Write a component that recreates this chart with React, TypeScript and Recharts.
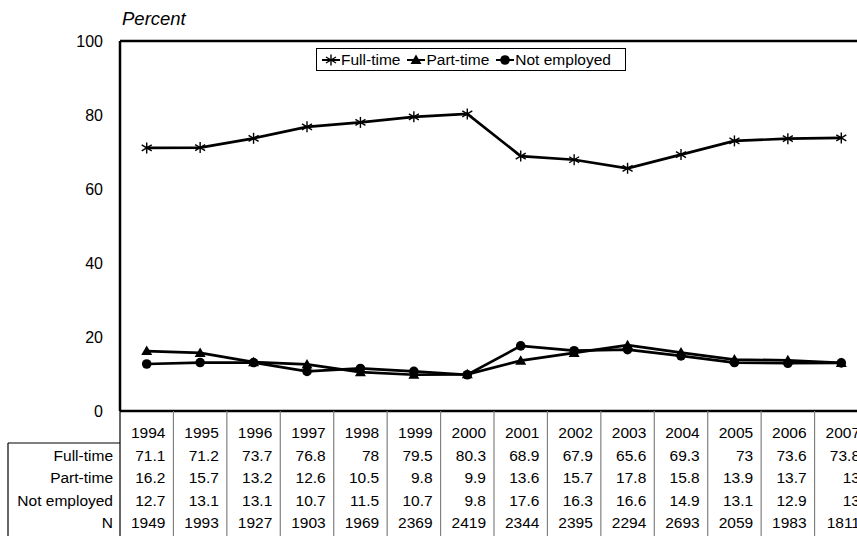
import React from 'react';
import { LineChart, Line, XAxis, YAxis, ReferenceLine, Legend } from 'recharts';

// values as printed in the data table under the chart
const years = ['1994', '1995', '1996', '1997', '1998', '1999', '2000', '2001', '2002', '2003', '2004', '2005', '2006', '2007'];
const fullTime = [71.1, 71.2, 73.7, 76.8, 78, 79.5, 80.3, 68.9, 67.9, 65.6, 69.3, 73, 73.6, 73.8];
const partTime = [16.2, 15.7, 13.2, 12.6, 10.5, 9.8, 9.9, 13.6, 15.7, 17.8, 15.8, 13.9, 13.7, 13];
const notEmployed = [12.7, 13.1, 13.1, 10.7, 11.5, 10.7, 9.8, 17.6, 16.3, 16.6, 14.9, 13.1, 12.9, 13];
const sampleN = [1949, 1993, 1927, 1903, 1969, 2369, 2419, 2344, 2395, 2294, 2693, 2059, 1983, 1811];
const rowLabels = ['Full-time', 'Part-time', 'Not employed', 'N'];
const seriesOrder = ['fullTime', 'partTime', 'notEmployed'];
const yTicks = [0, 20, 40, 60, 80, 100];

const data = years.map((year, i) => ({
  year,
  fullTime: fullTime[i],
  partTime: partTime[i],
  notEmployed: notEmployed[i],
}));
const tableRows = [fullTime, partTime, notEmployed, sampleN];

const FONT = '"Liberation Sans", Arial, Helvetica, sans-serif';
const CELL = 53.43; // width of one year column
const TABLE_SIZE = 15.5;

// markers
function starShape(cx: number, cy: number, key?: any) {
  return (
    <g key={key} stroke="#000" strokeWidth={1.4}>
      <line x1={cx} y1={cy - 5.5} x2={cx} y2={cy + 5.5} />
      <line x1={cx - 5} y1={cy - 3} x2={cx + 5} y2={cy + 3} />
      <line x1={cx - 5} y1={cy + 3} x2={cx + 5} y2={cy - 3} />
    </g>
  );
}
function triangleShape(cx: number, cy: number, key?: any) {
  return <path key={key} d={`M${cx},${cy - 5.5} L${cx + 5.5},${cy + 4} L${cx - 5.5},${cy + 4} Z`} fill="#000" />;
}
function circleShape(cx: number, cy: number, key?: any) {
  return <circle key={key} cx={cx} cy={cy} r={4.8} fill="#000" />;
}

const markers: Record<string, (cx: number, cy: number, key?: any) => React.ReactElement> = {
  fullTime: starShape,
  partTime: triangleShape,
  notEmployed: circleShape,
};

// each x tick draws its whole table column
function TableTick(props: any) {
  const { x, y, payload } = props;
  const index = payload.index ?? props.index;
  const right = x + CELL / 2;
  return (
    <g fontFamily={FONT} fontSize={TABLE_SIZE} fill="#000">
      <line x1={right} x2={right} y1={y} y2={y + 130} stroke="#808080" strokeWidth={1.2} />
      <text x={right - 8} y={y + 27} textAnchor="end" fill="#000">{payload.value}</text>
      {tableRows.map((row, r) => (
        <text key={r} x={right - 8} y={y + 50 + r * 22.4} textAnchor="end" fill="#000">
          {String(row[index])}
        </text>
      ))}
      {index === 0 && (
        <g>
          <line x1={x - CELL / 2} x2={x - CELL / 2} y1={y} y2={y + 130} stroke="#000" strokeWidth={1.2} />
          <line x1={8} x2={x - CELL / 2} y1={y + 32} y2={y + 32} stroke="#000" strokeWidth={1.2} />
          <line x1={8} x2={8} y1={y + 32} y2={y + 130} stroke="#000" strokeWidth={1.2} />
          {rowLabels.map((label, r) => (
            <text key={label} x={113} y={y + 50 + r * 22.4} textAnchor="end" fill="#000">{label}</text>
          ))}
        </g>
      )}
    </g>
  );
}

function LegendBox(props: any) {
  const { payload = [] } = props;
  const items = [...payload].sort(
    (a: any, b: any) => seriesOrder.indexOf(a.dataKey) - seriesOrder.indexOf(b.dataKey)
  );
  return (
    <div
      style={{
        display: 'inline-flex',
        alignItems: 'center',
        border: '1px solid #000',
        background: '#fff',
        height: 21,
        padding: '0 8px 0 4px',
        fontFamily: FONT,
        fontSize: TABLE_SIZE,
        color: '#000',
        whiteSpace: 'nowrap',
      }}
    >
      {items.map((entry: any) => (
        <span key={entry.dataKey} style={{ display: 'inline-flex', alignItems: 'center', marginRight: 6 }}>
          <svg width={20} height={14}>
            <line x1={1} x2={19} y1={7} y2={7} stroke="#000" strokeWidth={2} />
            {markers[entry.dataKey](10, 7)}
          </svg>
          {entry.value}
        </span>
      ))}
    </div>
  );
}

export default function App() {
  return (
    <div style={{ position: 'fixed', left: 0, top: 0, width: 857, height: 536, overflow: 'hidden', background: '#fff' }}>
      <div
        style={{
          position: 'absolute',
          left: 122,
          top: 8,
          fontFamily: FONT,
          fontStyle: 'italic',
          fontSize: 18.5,
          color: '#000',
        }}
      >
        Percent
      </div>
      <LineChart width={870} height={536} data={data} margin={{ top: 41, right: 2, bottom: 0, left: 0 }}>
        <XAxis
          dataKey="year"
          scale="band"
          interval={0}
          height={125}
          tickSize={0}
          tickMargin={0}
          axisLine={{ stroke: '#000', strokeWidth: 2.5 }}
          tickLine={false}
          tick={<TableTick />}
        />
        <YAxis
          width={120}
          domain={[0, 100]}
          ticks={yTicks}
          tickSize={0}
          tickMargin={17}
          tickLine={false}
          axisLine={{ stroke: '#000', strokeWidth: 2.5 }}
          tick={{ fill: '#000', fontSize: 16, fontFamily: FONT }}
        />
        <ReferenceLine y={100} stroke="#000" strokeWidth={2.5} />
        <Legend
          verticalAlign="middle"
          align="center"
          content={<LegendBox />}
          wrapperStyle={{ top: 48, left: 316, width: 'auto' }}
        />
        <Line
          dataKey="fullTime"
          name="Full-time"
          stroke="#000"
          strokeWidth={2.7}
          dot={(p: any) => starShape(p.cx, p.cy, p.index)}
          activeDot={false}
          isAnimationActive={false}
        />
        <Line
          dataKey="partTime"
          name="Part-time"
          stroke="#000"
          strokeWidth={2.7}
          dot={(p: any) => triangleShape(p.cx, p.cy, p.index)}
          activeDot={false}
          isAnimationActive={false}
        />
        <Line
          dataKey="notEmployed"
          name="Not employed"
          stroke="#000"
          strokeWidth={2.7}
          dot={(p: any) => circleShape(p.cx, p.cy, p.index)}
          activeDot={false}
          isAnimationActive={false}
        />
      </LineChart>
    </div>
  );
}
